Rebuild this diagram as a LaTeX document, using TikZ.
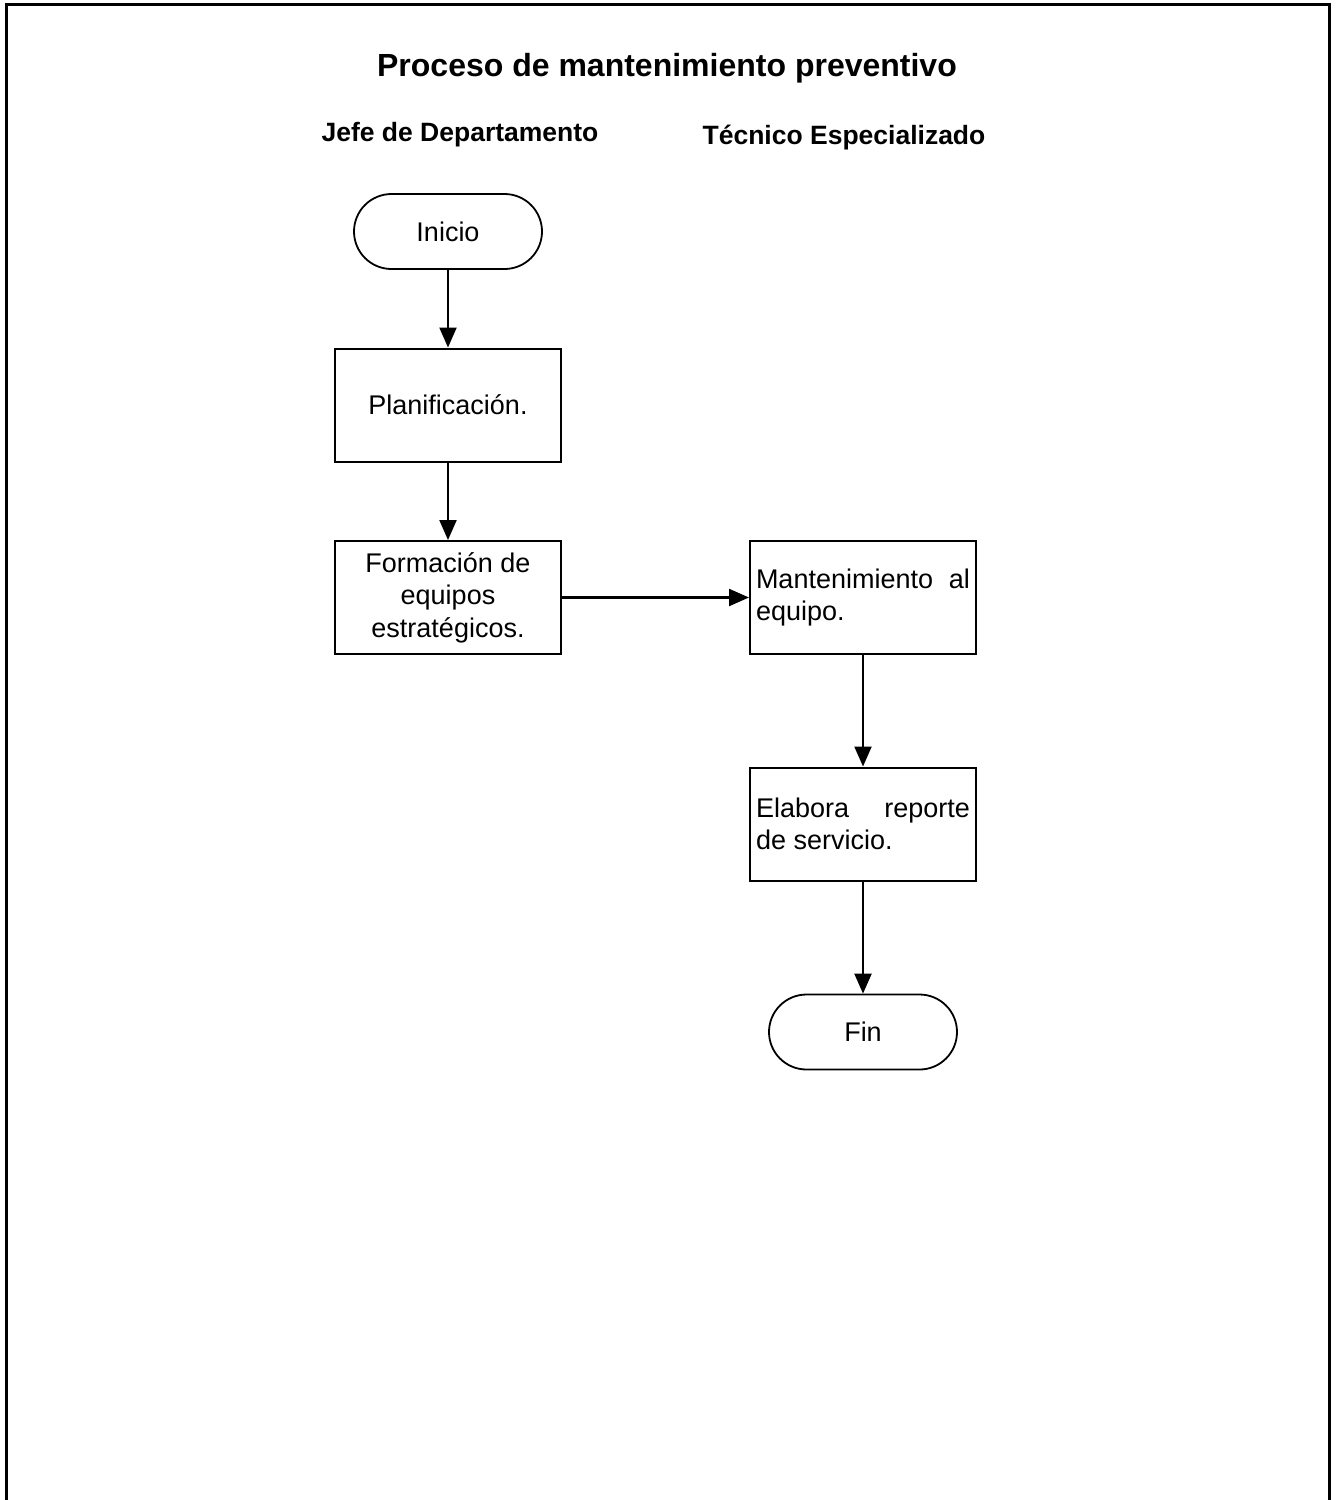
\documentclass[tikz,border=0pt]{standalone}
\usepackage{fontspec}
\setmainfont{Liberation Sans}
\usetikzlibrary{arrows.meta}
\begin{document}
\begin{tikzpicture}[x=0.5pt,y=-0.5pt,
  stepbox/.style={draw,line width=1pt,minimum width=113pt,minimum height=56.5pt,
    inner sep=0pt,font=\fontsize{13.5}{16.25}\selectfont},
  terminal/.style={draw,line width=0.9pt,rounded corners=18.75pt,minimum width=94pt,
    minimum height=37.5pt,inner sep=0pt,font=\fontsize{13.5}{16.25}\selectfont},
  flow/.style={line width=1.1pt,-{Triangle[length=10pt,width=8.5pt]}},
  lane/.style={font=\bfseries\fontsize{13.25}{16}\selectfont}]
\useasboundingbox (0,0) rectangle (1335,1500);
\begin{scope}
\clip (0,0) rectangle (1335,1500);
\draw[line width=1.5pt] (6,4) rectangle (1329,1540);
\end{scope}

% headings
\node[font=\bfseries\fontsize{16}{19}\selectfont] (title) at (667,68) {Proceso de mantenimiento preventivo};
\node[lane] (jefe) at (460,135) {Jefe de Departamento};
\node[lane] (tecnico) at (844,138) {Técnico Especializado};

% process steps
\node[terminal] (inicio) at (448,231.5) {Inicio};
\node[stepbox] (plan) at (448,405) {Planificación.};
\node[stepbox,align=center] (formacion) at (448,597.5) {Formación de\\equipos\\estratégicos.};
\node[stepbox,text width=107pt,align=justify] (mant) at (863,597.5) {Mantenimiento al\linebreak equipo.};
\node[stepbox,text width=107pt,align=justify] (reporte) at (863,824) {Elabora reporte\linebreak de servicio.};
\node[terminal] (fin) at (863,1032) {Fin};

% connectors
\draw[flow] (inicio) -- (plan);
\draw[flow] (plan) -- (formacion);
\draw[flow] (formacion) -- (mant);
\draw[flow] (mant) -- (reporte);
\draw[flow] (reporte) -- (fin);
\end{tikzpicture}
\end{document}
